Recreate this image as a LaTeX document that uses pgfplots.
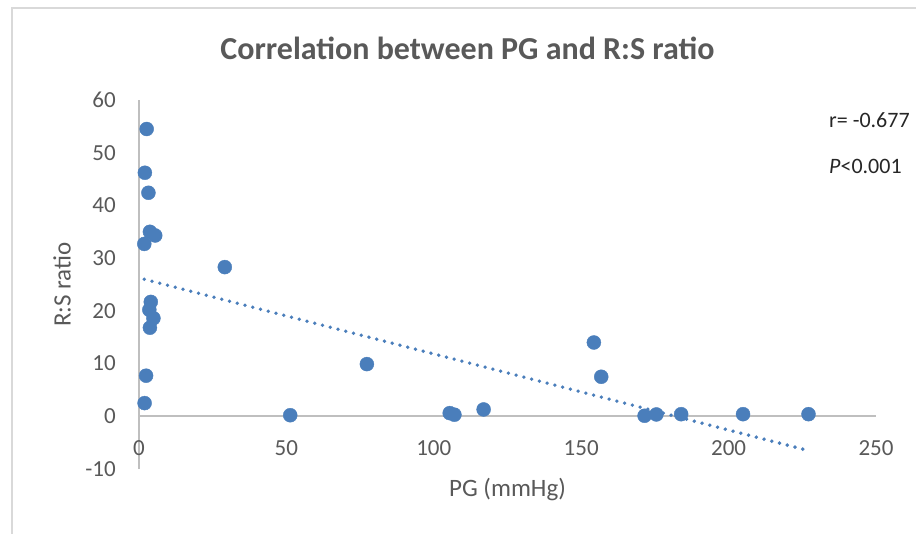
\documentclass[border=0pt]{standalone}
\usepackage{fontspec}
\setmainfont{Carlito}
\usepackage{pgfplots}
\pgfplotsset{compat=1.18}

\definecolor{dotblue}{HTML}{4A7EBB}
\definecolor{txtgrey}{HTML}{595959}
\definecolor{axgrey}{HTML}{BFBFBF}
\definecolor{framegrey}{HTML}{D9D9D9}

\begin{document}
\begin{tikzpicture}
  % chart frame (pixel x -> x-139, pixel y -> 469-y)
  \draw[framegrey, line width=1.5pt] (-127pt,-90pt) -- (-127pt,461pt) -- (800pt,461pt);

  \begin{axis}[
    scale only axis,
    width=737pt, height=369pt,
    xmin=0, xmax=250, ymin=-10, ymax=60,
    xtick={0,50,...,250}, ytick={-10,0,...,60},
    axis x line=middle, axis y line=left,
    axis line style={-, axgrey, line width=1.6pt},
    hide obscured x ticks=false, hide obscured y ticks=false,
    major tick length=0pt,
    tick style={draw=none},
    clip=false,
    /pgf/number format/assume math mode=true,
    ticklabel style={font=\fontsize{23}{23}\selectfont, text=txtgrey, inner sep=0pt},
    xticklabel style={anchor=center, yshift=-32pt},
    yticklabel style={anchor=east, xshift=-23pt},
    xlabel={PG (mmHg)},
    ylabel={R:S ratio},
    label style={font=\fontsize{25}{25}\selectfont, text=txtgrey},
    xlabel style={at={(axis description cs:0.5,0)}, anchor=center, yshift=-21pt},
    ylabel style={at={(axis description cs:-0.1045,0.5)}, anchor=center},
  ]
    % linear trend line
    \addplot[dotblue, line width=3.8pt, line cap=round, dash pattern=on 0pt off 8pt]
      coordinates {(1.8,26.0) (227,-6.5)};

    \addplot[only marks, mark=*, mark size=7pt,
      mark options={fill=dotblue, draw=dotblue}]
      coordinates {
        (2.6,54.5) (2.0,46.2) (3.2,42.4) (3.7,35.0) (5.5,34.3)
        (1.8,32.7) (29.1,28.3) (4.0,21.7) (3.5,20.2) (4.9,18.6)
        (3.7,16.8) (2.4,7.7) (1.9,2.5) (51.3,0.2) (77.3,9.9)
        (105.4,0.6) (107.0,0.3) (116.9,1.3) (154.3,14.0) (156.8,7.5)
        (171.5,0.1) (175.5,0.35) (183.9,0.4) (204.9,0.4) (227.1,0.4)
      };
  \end{axis}

  \node[font=\bfseries\fontsize{32}{32}\selectfont, text=txtgrey] at (328.5pt,421pt)
    {Correlation between PG and R:S ratio};
  \node[font=\fontsize{22}{22}\selectfont, anchor=base west, inner sep=0pt, text=black!85]
    at (690pt,341.7pt) {r=\ -0.677};
  \node[font=\fontsize{22}{22}\selectfont, anchor=base west, inner sep=0pt, text=black!85]
    at (690pt,295.7pt) {\textit{P}<0.001};

  \pgfresetboundingbox
  \useasboundingbox (-139pt,-64pt) rectangle (777pt,469pt);
\end{tikzpicture}
\end{document}
